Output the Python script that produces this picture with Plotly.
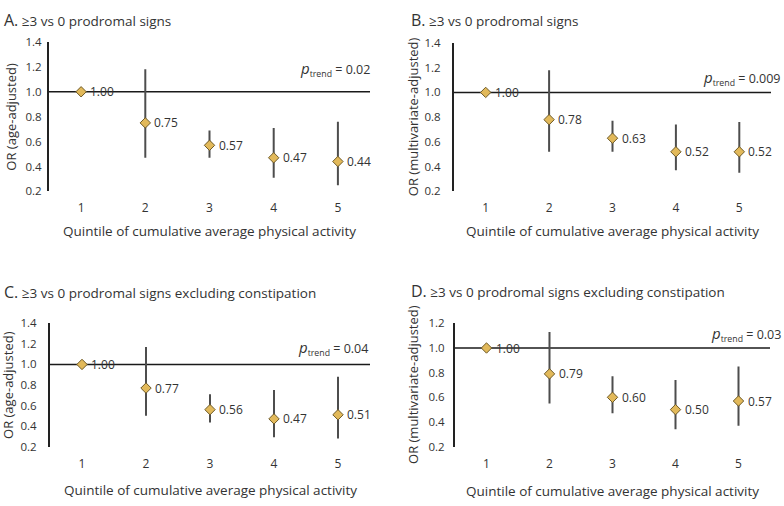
import plotly.graph_objects as go

quintiles = [1, 2, 3, 4, 5]
tick_labels = ["1", "2", "3", "4", "5"]

# Panel A: >=3 vs 0, age-adjusted
a_or = [1.00, 0.75, 0.57, 0.47, 0.44]
a_lo = [1.00, 0.47, 0.47, 0.31, 0.25]
a_hi = [1.00, 1.18, 0.69, 0.71, 0.76]
# Panel B: >=3 vs 0, multivariate-adjusted
b_or = [1.00, 0.78, 0.63, 0.52, 0.52]
b_lo = [1.00, 0.52, 0.52, 0.37, 0.35]
b_hi = [1.00, 1.18, 0.77, 0.74, 0.76]
# Panel C: excluding constipation, age-adjusted
c_or = [1.00, 0.77, 0.56, 0.47, 0.51]
c_lo = [1.00, 0.50, 0.435, 0.29, 0.28]
c_hi = [1.00, 1.17, 0.71, 0.75, 0.88]
# Panel D: excluding constipation, multivariate-adjusted
d_or = [1.00, 0.79, 0.60, 0.50, 0.57]
d_lo = [1.00, 0.55, 0.47, 0.34, 0.37]
d_hi = [1.00, 1.13, 0.77, 0.74, 0.85]

titles = ["≥3 vs 0 prodromal signs", "≥3 vs 0 prodromal signs",
          "≥3 vs 0 prodromal signs excluding constipation",
          "≥3 vs 0 prodromal signs excluding constipation"]
letters = ["A.", "B.", "C.", "D."]
ytitles = ["OR (age-adjusted)", "OR (multivariate-adjusted)",
           "OR (age-adjusted)", "OR (multivariate-adjusted)"]
ptrend = ["0.02", "0.009", "0.04", "0.03"]
ptrend_y = [1.18, 1.12, 1.16, 1.11]
yranges = [[0.2, 1.4], [0.2, 1.4], [0.2, 1.4], [0.2, 1.2]]
yticks = [[0.2, 0.4, 0.6, 0.8, 1.0, 1.2, 1.4]] * 3 + [[0.2, 0.4, 0.6, 0.8, 1.0, 1.2]]
xtitle = "Quintile of cumulative average physical activity"

W, H = 784, 506
# pixel boxes: (left, right, top, bottom)
boxes = [(49, 370, 35, 189), (454, 771, 36, 189), (50, 370, 325, 452), (455, 770, 325, 452)]
title_y = [12, 12, 293, 292]
title_x = [2, 409, 2, 409]
xtitle_y = [230, 230, 497, 498]
ytitle_x = [11, 413, 8, 413]
ytick_gap = [3, 9, 9, 6]
ptrend_right = [372, 783, 370, 783]

FONT = "Open Sans"
TXT = "#333333"

fig = go.Figure()
data = [(a_or, a_lo, a_hi), (b_or, b_lo, b_hi), (c_or, c_lo, c_hi), (d_or, d_lo, d_hi)]
layout = dict(width=W, height=H, margin=dict(l=0, r=0, t=0, b=0),
              paper_bgcolor="white", plot_bgcolor="white", showlegend=False,
              font=dict(family=FONT, color=TXT, size=11))
annotations = []
shapes = []
for i, (orv, lo, hi) in enumerate(data):
    n = i + 1
    xa = "x" if n == 1 else f"x{n}"
    ya = "y" if n == 1 else f"y{n}"
    L, R, T, B = boxes[i]
    plus = [h - o for h, o in zip(hi, orv)]
    minus = [o - l for o, l in zip(orv, lo)]
    fig.add_trace(go.Scatter(
        x=quintiles, y=orv, xaxis=xa, yaxis=ya, mode="markers",
        marker=dict(symbol="diamond", size=8, color="#E2B95A",
                    line=dict(color="#6e5a28", width=1)),
        error_y=dict(type="data", symmetric=False, array=plus, arrayminus=minus,
                     color="#4d4d4d", thickness=2, width=0),
        cliponaxis=False,
    ))
    for q, v in zip(quintiles, orv):
        annotations.append(dict(
            xref=xa, yref=ya, x=q, y=v, xanchor="left", yanchor="middle",
            xshift=7, showarrow=False, text=f"{v:.2f}",
            font=dict(size=12, color=TXT, family=FONT)))
    layout[f"xaxis{'' if n == 1 else n}"] = dict(
        domain=[L / W, R / W], range=[0.5, 5.5], anchor=ya,
        tickmode="array", tickvals=quintiles, ticktext=tick_labels,
        showgrid=False, zeroline=False, showline=False, ticks="",
        ticklabelstandoff=8, tickfont=dict(size=12, color=TXT, family=FONT))
    layout[f"yaxis{'' if n == 1 else n}"] = dict(
        domain=[1 - B / H, 1 - T / H], range=yranges[i], anchor=xa,
        tickmode="array", tickvals=yticks[i],
        ticktext=[f"{v:.1f}" for v in yticks[i]],
        showgrid=False, zeroline=False, showline=True, linecolor="#222222",
        linewidth=2, ticks="", ticklabelstandoff=ytick_gap[i],
        tickfont=dict(size=11.5, color=TXT, family=FONT))
    shapes.append(dict(type="line", xref=xa, yref=ya, x0=0.5, x1=5.5, y0=1.0, y1=1.0,
                       line=dict(color="#1a1a1a", width=1.5), layer="below"))
    annotations.append(dict(
        xref="paper", yref="paper", x=title_x[i] / W, y=1 - title_y[i] / H,
        xanchor="left", yanchor="middle", showarrow=False,
        text=f"<span style='font-size:16px'>{letters[i]}</span> {titles[i]}",
        font=dict(size=13.5, color=TXT, family=FONT)))
    annotations.append(dict(
        xref="paper", yref="paper", x=(L + R) / 2 / W, y=1 - xtitle_y[i] / H,
        xanchor="center", yanchor="middle", showarrow=False, text=xtitle,
        font=dict(size=13.5, color=TXT, family=FONT)))
    annotations.append(dict(
        xref="paper", yref="paper", x=ytitle_x[i] / W, y=1 - (T + B) / 2 / H,
        xanchor="center", yanchor="middle", showarrow=False, text=ytitles[i],
        textangle=-90, font=dict(size=13, color=TXT, family=FONT)))
    annotations.append(dict(
        xref="paper", yref=ya, x=ptrend_right[i] / W, y=ptrend_y[i],
        xanchor="right", yanchor="middle", showarrow=False,
        text=f"<i style='font-size:15px'>p</i><sub>trend</sub> = {ptrend[i]}",
        font=dict(size=12.5, color=TXT, family=FONT)))

layout["annotations"] = annotations
layout["shapes"] = shapes
fig.update_layout(**layout)
fig.write_html("out.html", config={"displayModeBar": False},
               post_script="document.body.style.margin='0';document.body.style.overflow='hidden';")
